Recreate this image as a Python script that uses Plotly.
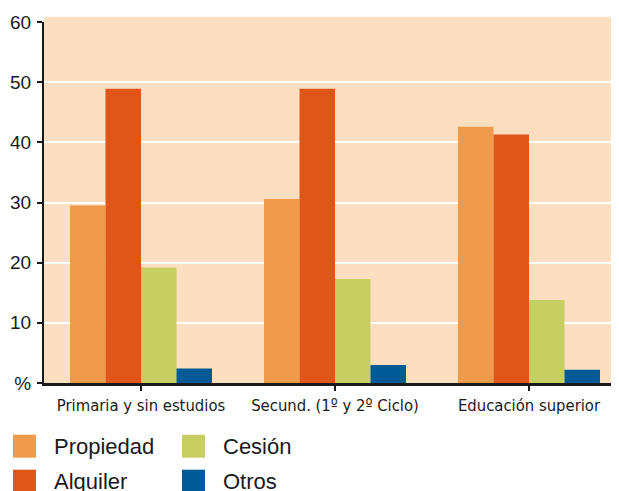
import plotly.graph_objects as go

categories = ["Primaria y sin estudios", "Secund. (1º y 2º Ciclo)", "Educación superior"]
series_names = ["Propiedad", "Alquiler", "Cesión", "Otros"]
propiedad = [29.5, 30.6, 42.6]
alquiler = [48.9, 48.9, 41.3]
cesion = [19.2, 17.3, 13.8]
otros = [2.4, 3.0, 2.2]
series_values = [propiedad, alquiler, cesion, otros]
colors = ["#F09B4B", "#E05518", "#C8CF62", "#005A96"]
y_tickvals = [0, 10, 20, 30, 40, 50, 60]
y_ticktext = ["%", "10", "20", "30", "40", "50", "60"]

# page has an 8px body margin: the figure is shifted by OFF px
OFF = 8
PAGE_W, PAGE_H = 619, 491
W, H = PAGE_W - OFF, PAGE_H - OFF
PLOT_L, PLOT_T, PLOT_B = 44, 22.3, 383.3  # page pixel coordinates
L = PLOT_L - OFF
T = PLOT_T - OFF
B = PAGE_H - PLOT_B
R = 0
pw, ph = W - L - R, H - T - B

def px_x(x):
    return (x - PLOT_L) / pw

def px_y(y):
    return (PLOT_B - y) / ph

fig = go.Figure()
for name, vals, col in zip(series_names, series_values, colors):
    fig.add_trace(go.Bar(x=list(range(len(categories))), y=vals, name=name,
                         marker=dict(color=col, line=dict(width=0)),
                         showlegend=False))

shapes = [dict(type="rect", xref="paper", yref="paper", x0=0, x1=1.02,
               y0=0, y1=px_y(17), fillcolor="#FBDFC0", line=dict(width=0), layer="below")]
annotations = []
for i, (name, col) in enumerate(zip(series_names, colors)):
    c, r = i // 2, i % 2
    sx = 13 + c * 169
    sy = 435 + r * 35
    shapes.append(dict(type="rect", xref="paper", yref="paper",
                       x0=px_x(sx), x1=px_x(sx + 23), y0=px_y(sy + 23), y1=px_y(sy),
                       fillcolor=col, line=dict(width=0)))
    annotations.append(dict(text=name, xref="paper", yref="paper",
                            x=px_x(sx + 39), y=px_y(sy + 12), xanchor="left", yanchor="middle",
                            showarrow=False, font=dict(size=22, color="#1a1a1a",
                                                       family="Liberation Sans, Arial, sans-serif")))

fig.update_layout(
    width=W, height=H,
    margin=dict(l=L, r=R, t=T, b=B, pad=0),
    paper_bgcolor="white",
    plot_bgcolor="rgba(0,0,0,0)",
    barmode="group",
    bargap=0.268,
    bargroupgap=0,
    shapes=shapes,
    annotations=annotations,
    xaxis=dict(
        tickvals=list(range(len(categories))), ticktext=categories,
        range=[-0.5, 2.464],
        showline=True, linecolor="#1a1a1a", linewidth=2.5,
        ticks="outside", tickson="boundaries", ticklen=5, tickwidth=2, tickcolor="#1a1a1a",
        showgrid=False, zeroline=False,
        tickfont=dict(size=16.5, color="#1a1a1a",
                      family="DejaVu Sans Condensed, Liberation Sans Narrow, sans-serif"),
    ),
    yaxis=dict(
        range=[0, 60], tickvals=y_tickvals, ticktext=y_ticktext,
        showline=True, linecolor="#1a1a1a", linewidth=2,
        ticks="outside", ticklen=5, tickwidth=2, tickcolor="#1a1a1a",
        showgrid=True, gridcolor="white", gridwidth=1.5,
        zeroline=False,
        tickfont=dict(size=19, color="#1a1a1a", family="Liberation Sans, Arial, sans-serif"),
        ticklabelstandoff=2,
    ),
)

fig.write_html("out.html")
